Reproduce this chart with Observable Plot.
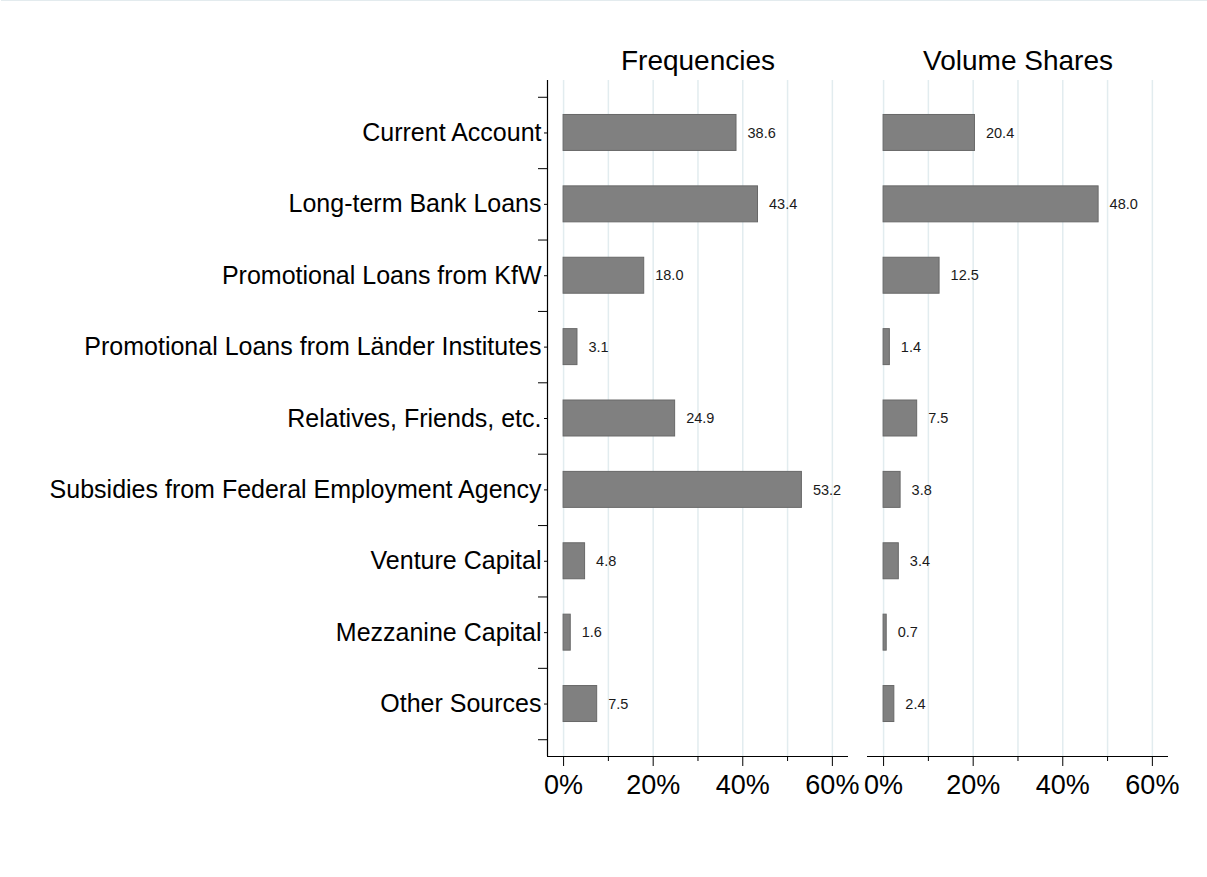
<!DOCTYPE html>
<html>
<head>
<meta charset="utf-8">
<script src="https://cdn.jsdelivr.net/npm/d3@7"></script>
<script src="https://cdn.jsdelivr.net/npm/@observablehq/plot@0.6"></script>
<style>
  html, body { margin: 0; padding: 0; background: #fff; }
  #wrap { position: relative; width: 1207px; height: 877px; }
  #topline { position: absolute; left: 1px; top: 0; width: 1206px; height: 1px; background: #e3ebee; }
</style>
</head>
<body>
<div id="wrap"><div id="chart"></div><div id="topline"></div></div>
<script>
const categories = [
  "Current Account",
  "Long-term Bank Loans",
  "Promotional Loans from KfW",
  "Promotional Loans from Länder Institutes",
  "Relatives, Friends, etc.",
  "Subsidies from Federal Employment Agency",
  "Venture Capital",
  "Mezzanine Capital",
  "Other Sources"
];
const panels = ["Frequencies", "Volume Shares"];
const frequencies = [38.6, 43.4, 18.0, 3.1, 24.9, 53.2, 4.8, 1.6, 7.5];
const volumeShares = [20.4, 48.0, 12.5, 1.4, 7.5, 3.8, 3.4, 0.7, 2.4];
const majorTicks = [0, 20, 40, 60];
const minorTicks = [10, 30, 50];
const gridTicks = [0, 10, 20, 30, 40, 50, 60];

const data = [];
categories.forEach((c, i) => {
  data.push({panel: panels[0], cat: c, i, value: frequencies[i]});
  data.push({panel: panels[1], cat: c, i, value: volumeShares[i]});
});

const font = "'Liberation Sans', Arial, Helvetica, sans-serif";
const xMin = -3.59, xMax = 63.6;
const yMin = -0.735, yMax = 8.735;

const chart = Plot.plot({
  width: 1207,
  height: 877,
  marginLeft: 547,
  marginRight: 38,
  marginTop: 80,
  marginBottom: 121,
  style: {fontFamily: font, background: "#fff", color: "#000"},
  fx: {domain: panels, padding: 0.058, axis: null},
  x: {domain: [xMin, xMax], axis: null},
  y: {domain: [yMin, yMax], reverse: true, axis: null},
  marks: [
    Plot.gridX(gridTicks, {stroke: "#e2ecef", strokeOpacity: 1, strokeWidth: 1.5}),
    Plot.rectX(data, {
      fx: "panel",
      x1: 0,
      x2: "value",
      y1: d => d.i - 0.252,
      y2: d => d.i + 0.252,
      fill: "#808080",
      stroke: "#686868",
      strokeWidth: 1
    }),
    Plot.text(data, {
      fx: "panel",
      x: "value",
      y: "i",
      text: d => d.value.toFixed(1),
      dx: 11,
      textAnchor: "start",
      fontSize: 14.5,
      fill: "#1a1a1a"
    }),
    Plot.ruleY([yMax], {stroke: "#000", strokeWidth: 1.2}),
    Plot.ruleX([{panel: panels[0]}], {fx: "panel", x: xMin, y1: yMin, y2: yMax, stroke: "#000", strokeWidth: 1.2}),
    Plot.axisX({ticks: majorTicks, tickFormat: d => d + "%", tickSize: 10, tickPadding: 8, fontSize: 27, label: null}),
    Plot.axisX({ticks: minorTicks, tickFormat: () => "", tickSize: 5, label: null}),
    Plot.axisY({ticks: d3.range(-0.5, 9, 1), tickFormat: () => "", tickSize: 9, facetAnchor: "left", label: null}),
    Plot.axisY({ticks: d3.range(0, 9, 1), tickFormat: i => categories[i], tickSize: 3, tickPadding: 3, fontSize: 25, facetAnchor: "left", label: null}),
    Plot.axisFx({anchor: "top", tickSize: 0, tickPadding: 11, fontSize: 28, label: null})
  ]
});
document.getElementById("chart").appendChild(chart);
</script>
</body>
</html>
